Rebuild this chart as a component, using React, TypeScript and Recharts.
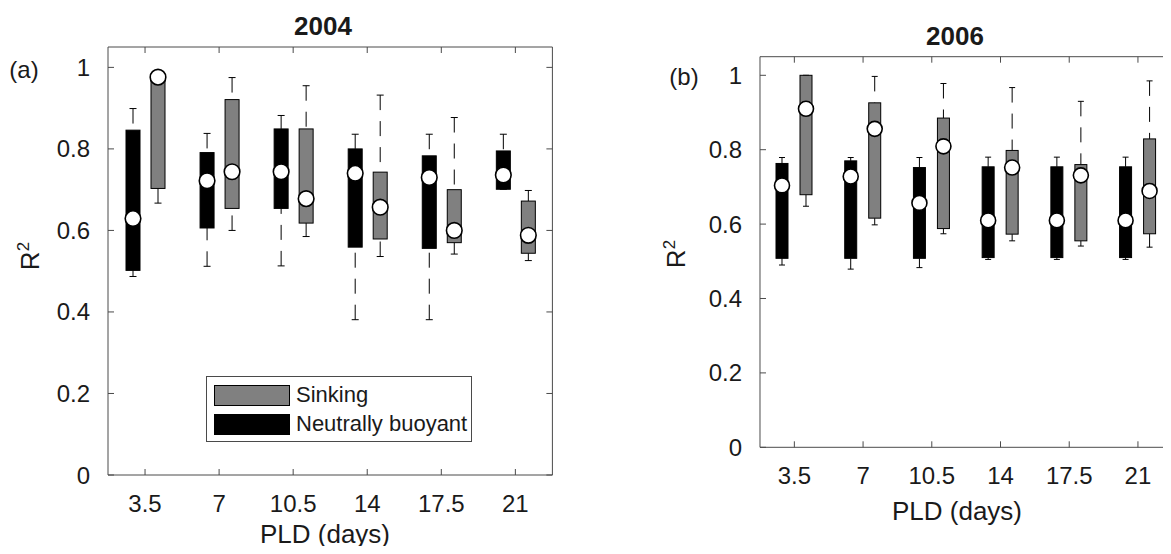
import React from 'react';
import { ComposedChart, Bar, XAxis, YAxis } from 'recharts';

const pld = ['3.5', '7', '10.5', '14', '17.5', '21'];
const yTicks = [0, 0.2, 0.4, 0.6, 0.8, 1];

// each entry: [min, q1, median, q3, max]
const neutral2004 = [
  [0.487, 0.502, 0.629, 0.846, 0.899],
  [0.512, 0.606, 0.722, 0.791, 0.838],
  [0.513, 0.654, 0.744, 0.849, 0.882],
  [0.381, 0.559, 0.74, 0.8, 0.836],
  [0.381, 0.556, 0.73, 0.783, 0.836],
  [0.701, 0.701, 0.736, 0.795, 0.836],
];
const sinking2004 = [
  [0.667, 0.703, 0.976, 0.98, 0.98],
  [0.6, 0.654, 0.744, 0.921, 0.975],
  [0.585, 0.618, 0.678, 0.849, 0.955],
  [0.536, 0.579, 0.657, 0.743, 0.932],
  [0.542, 0.57, 0.6, 0.7, 0.877],
  [0.526, 0.544, 0.588, 0.672, 0.698],
];
const neutral2006 = [
  [0.49, 0.508, 0.704, 0.763, 0.779],
  [0.479, 0.508, 0.728, 0.77, 0.779],
  [0.483, 0.508, 0.657, 0.752, 0.779],
  [0.505, 0.51, 0.61, 0.754, 0.78],
  [0.505, 0.51, 0.61, 0.754, 0.78],
  [0.505, 0.51, 0.61, 0.754, 0.78],
];
const sinking2006 = [
  [0.648, 0.679, 0.91, 1.0, 1.0],
  [0.598, 0.616, 0.856, 0.926, 0.997],
  [0.574, 0.588, 0.809, 0.885, 0.978],
  [0.555, 0.573, 0.752, 0.798, 0.967],
  [0.541, 0.555, 0.731, 0.76, 0.93],
  [0.538, 0.574, 0.689, 0.829, 0.985],
];

const FONT = '"Liberation Sans", Arial, Helvetica, sans-serif';
const AXIS = '#4a4a4a';
const TEXT = '#1a1a1a';
const GRAY = '#808080';

const buildRows = (neutral: number[][], sinking: number[][]) =>
  pld.map((p, i) => ({
    pld: p,
    nStats: neutral[i],
    sStats: sinking[i],
    nBox: [neutral[i][1], neutral[i][3]],
    sBox: [sinking[i][1], sinking[i][3]],
    nWhisker: [neutral[i][0], neutral[i][4]],
    sWhisker: [sinking[i][0], sinking[i][4]],
  }));

const rows2004 = buildRows(neutral2004, sinking2004);
const rows2006 = buildRows(neutral2006, sinking2006);

// whisker bar spans [min, max]; box edges are found inside that span
const whiskerShape = (key: string) => (props: any) => {
  const { x, y, width, height, payload } = props;
  const [min, q1, , q3, max] = payload[key];
  const top = Math.min(y, y + height);
  const h = Math.abs(height);
  const ppu = h / (max - min);
  const cx = x + width / 2;
  const yQ3 = top + (max - q3) * ppu;
  const yQ1 = top + (max - q1) * ppu;
  const cap = width / 4;
  return (
    <g stroke="#000" strokeWidth={1} fill="none">
      <path d={`M${cx},${top}L${cx},${yQ3}`} strokeDasharray="15 11" />
      <path d={`M${cx},${top + h}L${cx},${yQ1}`} strokeDasharray="15 11" />
      <line x1={cx - cap} x2={cx + cap} y1={top} y2={top} />
      <line x1={cx - cap} x2={cx + cap} y1={top + h} y2={top + h} />
    </g>
  );
};

const boxShape = (key: string, fill: string, r: number) => (props: any) => {
  const { x, y, width, height, payload } = props;
  const [, q1, med, q3] = payload[key];
  const top = Math.min(y, y + height);
  const h = Math.abs(height);
  const cy = top + ((q3 - med) / (q3 - q1)) * h;
  return (
    <g>
      <rect x={x} y={top} width={width} height={h} fill={fill} stroke="#000" strokeWidth={1} />
      <circle cx={x + width / 2} cy={cy} r={r} fill="#fff" stroke="#000" strokeWidth={1.6} />
    </g>
  );
};

const BottomTick = ({ x, y, payload }: any) => (
  <g>
    <line x1={x} x2={x} y1={y} y2={y - 6} stroke={AXIS} />
    <text x={x} y={y + 28} textAnchor="middle" dominantBaseline="central" fontSize={24} fill={TEXT} fontFamily={FONT}>
      {payload.value}
    </text>
  </g>
);
const TopTick = ({ x, y }: any) => <line x1={x} x2={x} y1={y} y2={y + 6} stroke={AXIS} />;
const LeftTick = ({ x, y, payload }: any) => (
  <g>
    <line x1={x} x2={x + 6} y1={y} y2={y} stroke={AXIS} />
    <text x={x - 18} y={y} textAnchor="end" dominantBaseline="central" fontSize={24} fill={TEXT} fontFamily={FONT}>
      {String(payload.value)}
    </text>
  </g>
);
const RightTick = ({ x, y }: any) => <line x1={x} x2={x - 6} y1={y} y2={y} stroke={AXIS} />;

interface PanelProps {
  rows: any[];
  left: number;
  width: number;
  marginTop: number;
  marginRight: number;
  axisHeight: number;
  barSize: number;
  barGap: number;
  r: number;
}

function Panel({ rows, left, width, marginTop, marginRight, axisHeight, barSize, barGap, r }: PanelProps) {
  return (
    <div style={{ position: 'absolute', left, top: 0 }}>
      <ComposedChart
        width={width}
        height={554}
        data={rows}
        margin={{ top: marginTop, right: marginRight, bottom: 0, left: 0 }}
        barSize={barSize}
        barGap={barGap}
      >
        <XAxis xAxisId="b" dataKey="pld" type="category" height={axisHeight} interval={0}
          tick={<BottomTick />} tickLine={false} tickSize={0} tickMargin={0} axisLine={{ stroke: AXIS }} />
        <XAxis xAxisId="t" dataKey="pld" type="category" orientation="top" height={1} interval={0}
          tick={<TopTick />} tickLine={false} tickSize={0} tickMargin={0} axisLine={{ stroke: AXIS }} />
        <YAxis yAxisId="l" type="number" domain={[0, 1.05]} ticks={yTicks} width={108} interval={0}
          tick={<LeftTick />} tickLine={false} tickSize={0} tickMargin={0} axisLine={{ stroke: AXIS }} allowDataOverflow />
        <YAxis yAxisId="r" type="number" orientation="right" domain={[0, 1.05]} ticks={yTicks} width={1} interval={0}
          tick={<RightTick />} tickLine={false} tickSize={0} tickMargin={0} axisLine={{ stroke: AXIS }} allowDataOverflow />

        <Bar xAxisId="t" yAxisId="r" dataKey="nWhisker" shape={whiskerShape('nStats')} isAnimationActive={false} />
        <Bar xAxisId="t" yAxisId="r" dataKey="sWhisker" shape={whiskerShape('sStats')} isAnimationActive={false} />
        <Bar xAxisId="b" yAxisId="l" dataKey="nBox" shape={boxShape('nStats', '#000', r)} isAnimationActive={false} />
        <Bar xAxisId="b" yAxisId="l" dataKey="sBox" shape={boxShape('sStats', GRAY, r)} isAnimationActive={false} />
      </ComposedChart>
    </div>
  );
}

const Label = ({ x, y, size, bold, children, rotate }: any) => (
  <div
    style={{
      position: 'absolute',
      left: x,
      top: y,
      transform: `translate(-50%, -50%)${rotate ? ' rotate(-90deg)' : ''}`,
      fontSize: size,
      fontWeight: bold ? 'bold' : 'normal',
      lineHeight: 1,
      whiteSpace: 'nowrap',
      color: TEXT,
    }}
  >
    {children}
  </div>
);

export default function App() {
  return (
    <div style={{ position: 'relative', margin: -8, width: 1171, height: 554, overflow: 'hidden', background: '#fff', fontFamily: FONT }}>
      <Panel rows={rows2004} left={0} width={600} marginTop={46} marginRight={46.6} axisHeight={79} barSize={14} barGap={11} r={7.8} />
      <Panel rows={rows2006} left={651.7} width={531.3} marginTop={55.7} marginRight={10} axisHeight={106.7} barSize={12} barGap={12} r={7.5} />

      <Label x={323} y={26} size={26} bold>2004</Label>
      <Label x={955} y={36} size={26} bold>2006</Label>
      <Label x={325} y={534} size={26}>PLD (days)</Label>
      <Label x={957} y={511} size={26}>PLD (days)</Label>
      <Label x={24} y={70} size={24}>(a)</Label>
      <Label x={684} y={77} size={24}>(b)</Label>
      <Label x={30} y={256} size={26} rotate>R<sup style={{ fontSize: 17, verticalAlign: 'super', lineHeight: 0 }}>2</sup></Label>
      <Label x={676} y={254} size={26} rotate>R<sup style={{ fontSize: 17, verticalAlign: 'super', lineHeight: 0 }}>2</sup></Label>

      {/* legend */}
      <div style={{ position: 'absolute', left: 206, top: 376, width: 266, height: 66, border: `1px solid ${AXIS}`, background: '#fff', boxSizing: 'border-box' }}>
        {[{ name: 'Sinking', color: GRAY }, { name: 'Neutrally buoyant', color: '#000' }].map((item, i) => (
          <div key={i} style={{ position: 'absolute', left: 7, top: 7 + i * 29, display: 'flex', alignItems: 'center', height: 22 }}>
            <div style={{ width: 76, height: 21, background: item.color, border: '1px solid #000', boxSizing: 'border-box' }} />
            <span style={{ marginLeft: 6, fontSize: 22, color: TEXT, lineHeight: 1 }}>{item.name}</span>
          </div>
        ))}
      </div>
    </div>
  );
}
